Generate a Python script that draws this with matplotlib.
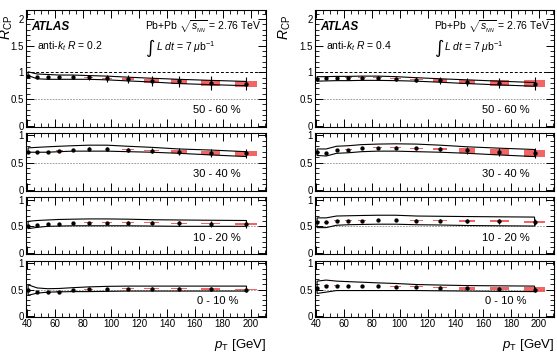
import numpy as np
import matplotlib
matplotlib.use("Agg")
import matplotlib.pyplot as plt
from matplotlib.ticker import MultipleLocator, FuncFormatter

plt.rcParams['font.family'] = ['Liberation Sans', 'DejaVu Sans']
plt.rcParams['mathtext.fontset'] = 'custom'
plt.rcParams['mathtext.rm'] = 'Liberation Sans'
plt.rcParams['mathtext.it'] = 'Liberation Sans:italic'
plt.rcParams['mathtext.bf'] = 'Liberation Sans:bold'

# jet pT bin centres [GeV]
pt = [40.5, 47, 54.5, 63, 72.5, 84, 97, 112, 129, 148.5, 171.5, 197]

centralities = ["50 - 60 %", "30 - 40 %", "10 - 20 %", "0 - 10 %"]
radii = ["0.2", "0.4"]

# ---------------- anti-kt R = 0.2 ----------------
r02_rcp = [
    [0.94, 0.91, 0.91, 0.91, 0.91, 0.91, 0.89, 0.87, 0.84, 0.83, 0.80, 0.79],
    [0.69, 0.69, 0.70, 0.72, 0.735, 0.75, 0.75, 0.735, 0.72, 0.70, 0.68, 0.67],
    [0.50, 0.53, 0.545, 0.55, 0.56, 0.57, 0.57, 0.57, 0.57, 0.56, 0.55, 0.54],
    [0.50, 0.455, 0.445, 0.46, 0.485, 0.505, 0.51, 0.515, 0.515, 0.515, 0.51, 0.50],
]
r02_stat = [
    [0.02, 0.02, 0.02, 0.025, 0.04, 0.045, 0.065, 0.075, 0.1, 0.1, 0.125, 0.13],
    [0.01, 0.01, 0.01, 0.015, 0.02, 0.03, 0.035, 0.04, 0.05, 0.06, 0.07, 0.085],
    [0.01, 0.01, 0.01, 0.01, 0.015, 0.015, 0.02, 0.025, 0.035, 0.045, 0.055, 0.065],
    [0.01, 0.01, 0.01, 0.01, 0.01, 0.012, 0.015, 0.02, 0.025, 0.03, 0.035, 0.04],
]
r02_syst = [
    [0.004, 0.004, 0.004, 0.005, 0.006, 0.008, 0.012, 0.02, 0.04, 0.047, 0.053, 0.056],
    [0.003, 0.003, 0.003, 0.004, 0.005, 0.006, 0.007, 0.008, 0.012, 0.03, 0.036, 0.045],
    [0.003, 0.003, 0.003, 0.003, 0.004, 0.004, 0.005, 0.006, 0.008, 0.01, 0.012, 0.015],
    [0.003, 0.003, 0.003, 0.003, 0.004, 0.005, 0.006, 0.007, 0.008, 0.01, 0.01, 0.012],
]
r02_band_hi = [
    [1.01, 0.97, 0.96, 0.95, 0.95, 0.94, 0.93, 0.91, 0.89, 0.87, 0.85, 0.83],
    [0.77, 0.78, 0.79, 0.80, 0.81, 0.82, 0.82, 0.80, 0.78, 0.75, 0.73, 0.70],
    [0.595, 0.61, 0.62, 0.63, 0.635, 0.64, 0.64, 0.635, 0.625, 0.62, 0.615, 0.61],
    [0.59, 0.53, 0.515, 0.52, 0.535, 0.55, 0.56, 0.565, 0.565, 0.565, 0.565, 0.565],
]
r02_band_lo = [
    [0.94, 0.88, 0.87, 0.87, 0.87, 0.87, 0.86, 0.84, 0.82, 0.79, 0.77, 0.75],
    [0.69, 0.69, 0.69, 0.70, 0.71, 0.71, 0.71, 0.70, 0.69, 0.67, 0.64, 0.61],
    [0.455, 0.48, 0.50, 0.505, 0.51, 0.51, 0.51, 0.51, 0.505, 0.50, 0.50, 0.50],
    [0.39, 0.43, 0.45, 0.455, 0.46, 0.46, 0.465, 0.47, 0.47, 0.47, 0.47, 0.47],
]

# ---------------- anti-kt R = 0.4 ----------------
r04_rcp = [
    [0.885, 0.89, 0.89, 0.90, 0.90, 0.90, 0.88, 0.865, 0.85, 0.82, 0.80, 0.79],
    [0.687, 0.68, 0.73, 0.74, 0.765, 0.777, 0.777, 0.765, 0.747, 0.723, 0.699, 0.669],
    [0.58, 0.575, 0.61, 0.61, 0.61, 0.62, 0.62, 0.61, 0.61, 0.60, 0.595, 0.58],
    [0.538, 0.576, 0.576, 0.57, 0.563, 0.563, 0.557, 0.55, 0.538, 0.525, 0.513, 0.50],
]
r04_stat = [
    [0.02, 0.02, 0.02, 0.02, 0.025, 0.03, 0.04, 0.05, 0.06, 0.08, 0.1, 0.12],
    [0.01, 0.01, 0.01, 0.01, 0.015, 0.015, 0.02, 0.025, 0.04, 0.06, 0.075, 0.09],
    [0.01, 0.01, 0.01, 0.01, 0.01, 0.012, 0.015, 0.02, 0.03, 0.04, 0.05, 0.06],
    [0.01, 0.01, 0.01, 0.01, 0.01, 0.01, 0.012, 0.015, 0.02, 0.025, 0.03, 0.04],
]
r04_syst = [
    [0.004, 0.004, 0.004, 0.005, 0.006, 0.008, 0.01, 0.015, 0.025, 0.04, 0.05, 0.06],
    [0.003, 0.003, 0.004, 0.004, 0.005, 0.006, 0.007, 0.01, 0.015, 0.045, 0.055, 0.066],
    [0.003, 0.003, 0.003, 0.003, 0.004, 0.005, 0.006, 0.008, 0.01, 0.015, 0.02, 0.02],
    [0.003, 0.003, 0.003, 0.003, 0.004, 0.005, 0.006, 0.01, 0.015, 0.025, 0.03, 0.04],
]
r04_band_hi = [
    [0.92, 0.92, 0.925, 0.925, 0.93, 0.93, 0.92, 0.90, 0.88, 0.86, 0.835, 0.81],
    [0.75, 0.75, 0.80, 0.81, 0.83, 0.84, 0.845, 0.84, 0.82, 0.79, 0.765, 0.74],
    [0.66, 0.66, 0.695, 0.70, 0.705, 0.71, 0.71, 0.695, 0.69, 0.685, 0.68, 0.675],
    [0.66, 0.68, 0.66, 0.65, 0.64, 0.627, 0.615, 0.595, 0.585, 0.575, 0.57, 0.565],
]
r04_band_lo = [
    [0.835, 0.84, 0.845, 0.845, 0.85, 0.85, 0.845, 0.835, 0.815, 0.79, 0.765, 0.74],
    [0.63, 0.62, 0.67, 0.68, 0.70, 0.71, 0.71, 0.70, 0.69, 0.67, 0.64, 0.61],
    [0.475, 0.475, 0.52, 0.53, 0.535, 0.54, 0.54, 0.53, 0.525, 0.515, 0.51, 0.505],
    [0.425, 0.45, 0.48, 0.48, 0.48, 0.48, 0.48, 0.48, 0.475, 0.47, 0.465, 0.46],
]

columns = [
    (r02_rcp, r02_stat, r02_syst, r02_band_hi, r02_band_lo),
    (r04_rcp, r04_stat, r04_syst, r04_band_hi, r04_band_lo),
]

W, H = 557, 352
fig = plt.figure(figsize=(W / 100, H / 100), dpi=100)

# panel geometry in pixels
col_x = [(26, 266), (315, 554)]
rows_px = [(9.5, 127), (132.7, 191), (197.3, 254), (260.7, 317)]
ylabel_x = [7, 285]

x = np.array(pt)
fmt = FuncFormatter(lambda v, p: '%g' % round(v, 2))

for c, (rcp, stat, syst, bhi, blo) in enumerate(columns):
    x0, x1 = col_x[c]
    for r in range(4):
        t, b = rows_px[r]
        ax = fig.add_axes([x0 / W, 1 - b / H, (x1 - x0) / W, (b - t) / H])
        y = np.array(rcp[r])
        s = np.array(syst[r])

        if r == 0:
            ax.axhline(1.0, color='k', ls=(0, (3, 2)), lw=0.7, zorder=1)
        ax.axhline(0.5, color='0.55', ls=(0, (2, 1.5)), lw=0.6, zorder=1)

        # systematic boxes
        ax.bar(x, 2 * s, bottom=y - s, width=0.08 * x, color='#ef4a4a',
               alpha=0.85, linewidth=0, zorder=2)
        # uncertainty envelope
        ax.fill(np.concatenate([x, x[::-1]]),
                np.concatenate([bhi[r], blo[r][::-1]]),
                facecolor='none', edgecolor='k', lw=0.8, zorder=3)
        ax.errorbar(x, y, yerr=stat[r], fmt='o', ms=2.1, color='k',
                    elinewidth=0.8, capsize=0, zorder=4)

        ax.set_xlim(39, 211)
        if r == 0:
            ax.set_ylim(-0.025, 2.18)
        else:
            ax.set_ylim(-0.025, 1.05)
        ax.xaxis.set_major_locator(MultipleLocator(20))
        ax.xaxis.set_minor_locator(MultipleLocator(5))
        ax.yaxis.set_major_locator(MultipleLocator(0.5))
        ax.yaxis.set_minor_locator(MultipleLocator(0.1))
        ax.yaxis.set_major_formatter(fmt)
        ax.tick_params(which='both', direction='in', top=True, right=True,
                       labelsize=7, pad=1.5, colors='k')
        ax.tick_params(which='major', length=5.5, width=0.7)
        ax.tick_params(which='minor', length=2.7, width=0.6)
        for sp in ax.spines.values():
            sp.set_linewidth(0.8)
        if r < 3:
            ax.tick_params(labelbottom=False)
        else:
            ax.set_xlabel(r'$p_{\rm T}$ [GeV]', fontsize=9.5, loc='right',
                          labelpad=6)

        ax.text(0.797, 0.29 if r else 0.145, centralities[r],
                transform=ax.transAxes, ha='center', va='center', fontsize=8)

        if r == 0:
            ax.text(0.02, 0.855, 'ATLAS', transform=ax.transAxes,
                    fontsize=8.5, fontweight='bold', style='italic',
                    va='center')
            ax.text(0.045, 0.69, r'anti-$k_{t}$ $R$ = ' + radii[c],
                    transform=ax.transAxes, fontsize=7.5, va='center')
            ax.text(0.497, 0.855, r'Pb+Pb $\sqrt{s_{_{NN}}}$ = 2.76 TeV',
                    transform=ax.transAxes, fontsize=7.5, va='center')
            ax.text(0.497, 0.675, '\u222b', transform=ax.transAxes,
                    fontsize=13, va='center', family='DejaVu Sans')
            ax.text(0.54, 0.68, r'$L$ $dt$ = 7 $\mu$b$^{-1}$',
                    transform=ax.transAxes, fontsize=7.5, va='center')

    fig.text(ylabel_x[c] / W, 1 - 15 / H, r'$R_{\rm CP}$', rotation=90,
             ha='center', va='top', fontsize=10)

fig.savefig('out.png', dpi=100)
